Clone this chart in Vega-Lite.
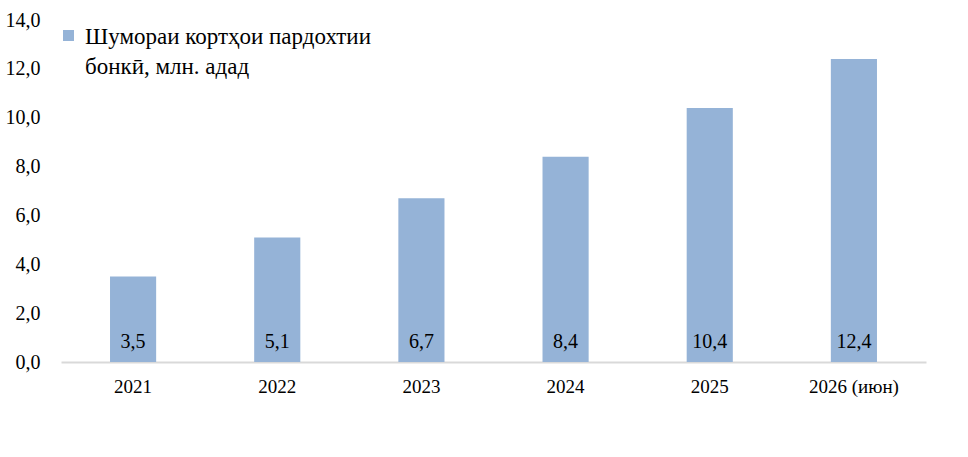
{
  "$schema": "https://vega.github.io/schema/vega-lite/v6.json",
  "autosize": "none",
  "width": 865,
  "height": 342,
  "padding": {"left": 61, "top": 20, "right": 42, "bottom": 95},
  "background": "white",
  "config": {
    "view": {"stroke": null},
    "font": "Liberation Serif",
    "locale": {"number": {"decimal": ",", "thousands": " ", "grouping": [3], "currency": ["", ""]}},
    "style": {"guide-label": {"lineHeight": 30, "dy": 8}}
  },
  "data": {
    "values": [
      {"year": "2021", "value": 3.5, "series": "Шумораи кортҳои пардохтии бонкӣ, млн. адад"},
      {"year": "2022", "value": 5.1, "series": "Шумораи кортҳои пардохтии бонкӣ, млн. адад"},
      {"year": "2023", "value": 6.7, "series": "Шумораи кортҳои пардохтии бонкӣ, млн. адад"},
      {"year": "2024", "value": 8.4, "series": "Шумораи кортҳои пардохтии бонкӣ, млн. адад"},
      {"year": "2025", "value": 10.4, "series": "Шумораи кортҳои пардохтии бонкӣ, млн. адад"},
      {"year": "2026 (июн)", "value": 12.4, "series": "Шумораи кортҳои пардохтии бонкӣ, млн. адад"}
    ]
  },
  "encoding": {
    "x": {
      "field": "year",
      "type": "ordinal",
      "sort": null,
      "title": null,
      "scale": {"paddingInner": 0.68, "paddingOuter": 0.34},
      "axis": {
        "labelAngle": 0,
        "labelFont": "Liberation Serif",
        "labelFontSize": 19,
        "labelColor": "black",
        "labelPadding": 7,
        "ticks": false,
        "domainColor": "#D9D9D9",
        "domainWidth": 2
      }
    }
  },
  "layer": [
    {
      "mark": {"type": "bar", "color": "#95B3D7"},
      "encoding": {
        "y": {
          "field": "value",
          "type": "quantitative",
          "title": null,
          "scale": {"domain": [0, 14]},
          "axis": {
            "values": [0, 2, 4, 6, 8, 10, 12, 14],
            "format": ".1f",
            "labelFont": "Liberation Serif",
            "labelFontSize": 20,
            "labelColor": "black",
            "labelPadding": 21,
            "labelOffset": -8,
            "ticks": false,
            "domain": false,
            "grid": false
          }
        },
        "color": {
          "field": "series",
          "type": "nominal",
          "scale": {"range": ["#95B3D7"]},
          "legend": {
            "title": null,
            "orient": "none",
            "legendX": -4,
            "legendY": 4,
            "symbolType": "square",
            "symbolSize": 121,
            "symbolStrokeWidth": 0,
            "labelFont": "Liberation Serif",
            "labelFontSize": 23,
            "labelColor": "black",
            "labelLimit": 0,
            "labelOffset": 5,
            "labelBaseline": "alphabetic",
            "labelExpr": "['Шумораи кортҳои пардохтии', 'бонкӣ, млн. адад']"
          }
        }
      }
    },
    {
      "mark": {"type": "text", "font": "Liberation Serif", "fontSize": 20, "color": "black", "baseline": "middle", "dy": -20},
      "encoding": {
        "y": {"datum": 0, "type": "quantitative"},
        "text": {"field": "value", "type": "quantitative", "format": ".1f"}
      }
    }
  ]
}
